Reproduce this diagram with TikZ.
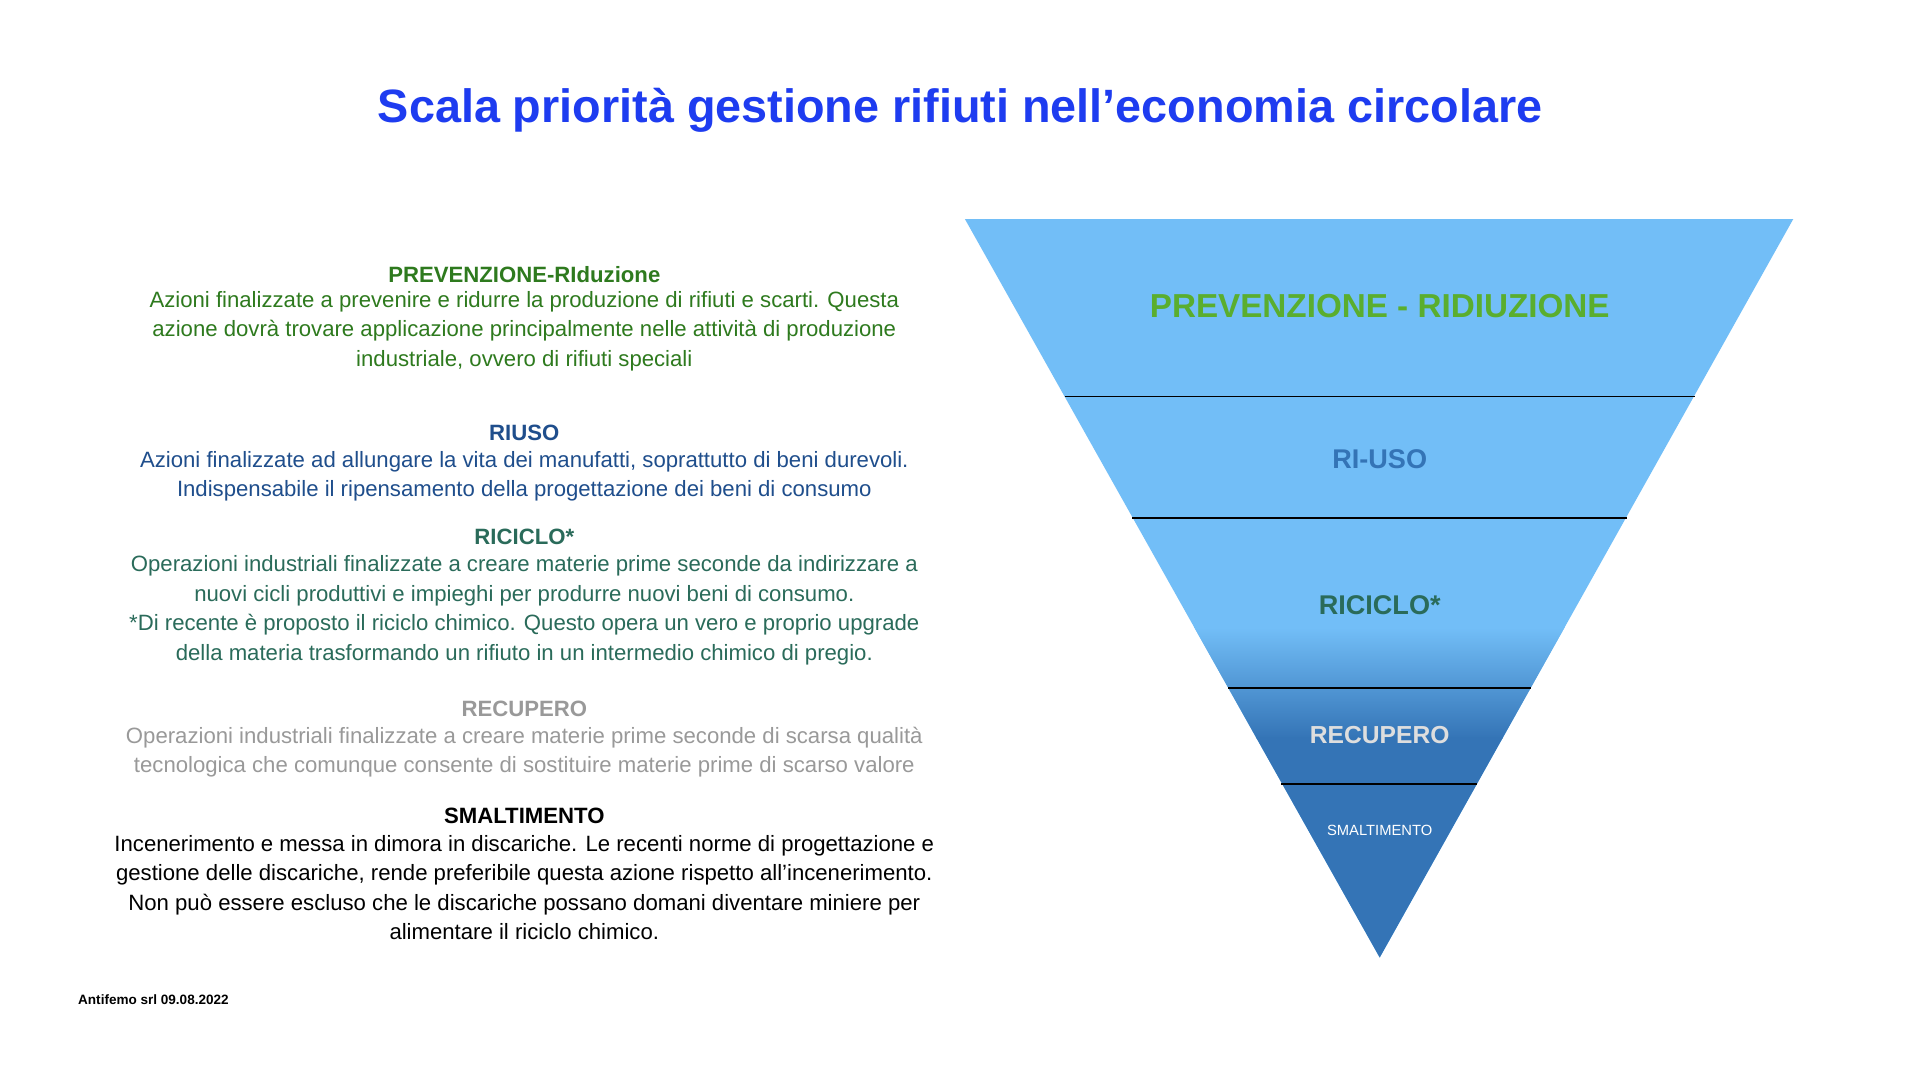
\documentclass[tikz,border=0pt]{standalone}
\usepackage{fontspec}
\setmainfont{Liberation Sans}
\usepackage{tikz}
\definecolor{titleblue}{HTML}{1E3CF0}
\definecolor{skyblue}{HTML}{72BEF7}
\definecolor{deepblue}{HTML}{3474B6}
\definecolor{leafgreen}{HTML}{2E7A1E}
\definecolor{limegreen}{HTML}{5AAE2E}
\definecolor{navyblue}{HTML}{1F4E8C}
\definecolor{tealgreen}{HTML}{2A6B5A}
\definecolor{ashgray}{HTML}{999999}
\begin{document}
\begin{tikzpicture}[x = 1pt, y = -1pt,
                      head/.style = {font = \fontsize{18}{24}\selectfont\bfseries},
                      body/.style = {align = center, font = \fontsize{18}{24}\selectfont},
                      band/.style = {font = \fontsize{#1}{#1}\selectfont\bfseries}]
    \useasboundingbox[fill = white] (0, 0) rectangle (1560, 877.5);
    \node [font = \fontsize{38}{38}\selectfont\bfseries, text = titleblue] (title) at (780, 90) {Scala priorità gestione rifiuti nell’economia circolare};

    % the inverted pyramid
    \fill[skyblue] (784, 178) -- (1457, 178) -- (1121, 778) -- cycle;
    \begin{scope}
      \clip (784, 178) -- (1457, 178) -- (1121, 778) -- cycle;
      \shade[top color = skyblue, bottom color = deepblue] (780, 510) rectangle (1460, 600);
      \fill[deepblue] (780, 599) rectangle (1460, 780);
    \end{scope}
    \draw[line width = 1.3pt] (865, 322) -- (1377, 322);
    \draw[line width = 1.3pt] (920, 421) -- (1322, 421);
    \draw[line width = 1.3pt] (998, 559) -- (1244, 559);
    \draw[line width = 1.3pt] (1041, 637) -- (1200, 637);

    \node [band = 27, text = limegreen] (prev) at (1121, 249) {PREVENZIONE - RIDIUZIONE};
    \node [band = 22, text = deepblue] (riuso) at (1121, 373) {RI-USO};
    \node [band = 22, text = tealgreen] (ricic) at (1121, 492) {RICICLO*};
    \node [band = 20, text = black!13] (recup) at (1121, 597) {RECUPERO};
    \node [font = \fontsize{12}{12}\selectfont, text = white] (smalt) at (1121, 675) {SMALTIMENTO};

    % left column
    \node [head, text = leafgreen] (h1) at (426, 223) {PREVENZIONE-RIduzione};
    \node [body, text = leafgreen, anchor = north] (t1) at (426, 233) {Azioni finalizzate a prevenire e ridurre la produzione di rifiuti e scarti. Questa\\azione dovrà trovare applicazione principalmente nelle attività di produzione\\industriale, ovvero di rifiuti speciali};
    \node [head, text = navyblue] (h2) at (426, 352) {RIUSO};
    \node [body, text = navyblue, anchor = north] (t2) at (426, 363) {Azioni finalizzate ad allungare la vita dei manufatti, soprattutto di beni durevoli.\\Indispensabile il ripensamento della progettazione dei beni di consumo};
    \node [head, text = tealgreen] (h3) at (426, 436) {RICICLO*};
    \node [body, text = tealgreen, anchor = north] (t3) at (426, 448) {Operazioni industriali finalizzate a creare materie prime seconde da indirizzare a\\nuovi cicli produttivi e impieghi per produrre nuovi beni di consumo.\\*Di recente è proposto il riciclo chimico. Questo opera un vero e proprio upgrade\\della materia trasformando un rifiuto in un intermedio chimico di pregio.};
    \node [head, text = ashgray] (h4) at (426, 576) {RECUPERO};
    \node [body, text = ashgray, anchor = north] (t4) at (426, 587) {Operazioni industriali finalizzate a creare materie prime seconde di scarsa qualità\\tecnologica che comunque consente di sostituire materie prime di scarso valore};
    \node [head] (h5) at (426, 663) {SMALTIMENTO};
    \node [body, anchor = north] (t5) at (426, 675) {Incenerimento e messa in dimora in discariche. Le recenti norme di progettazione e\\gestione delle discariche, rende preferibile questa azione rispetto all’incenerimento.\\Non può essere escluso che le discariche possano domani diventare miniere per\\alimentare il riciclo chimico.};

    \node [anchor = west, font = \fontsize{11}{11}\selectfont\bfseries] (foot) at (60, 812) {Antifemo srl 09.08.2022};
\end{tikzpicture}
\end{document}
